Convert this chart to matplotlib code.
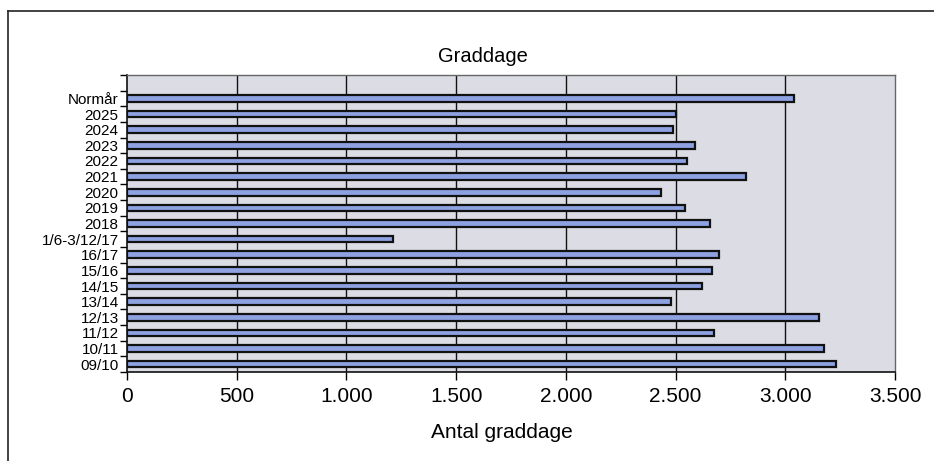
import numpy as np
import matplotlib
matplotlib.use('Agg')
import matplotlib.pyplot as plt
from matplotlib.lines import Line2D

plt.rcParams['font.family'] = ['Liberation Sans', 'DejaVu Sans']

# seasons, bottom to top
labels = ['09/10', '10/11', '11/12', '12/13', '13/14', '14/15', '15/16', '16/17',
          '1/6-3/12/17', '2018', '2019', '2020', '2021', '2022', '2023', '2024',
          '2025', 'Normår']
values = [3230, 3175, 2675, 3155, 2480, 2620, 2665, 2700,
          1210, 2655, 2545, 2435, 2820, 2550, 2590, 2490,
          2500, 3040]
xticks = [0, 500, 1000, 1500, 2000, 2500, 3000, 3500]
xticklabels = ['0', '500', '1.000', '1.500', '2.000', '2.500', '3.000', '3.500']

fig = plt.figure(figsize=(9.34, 4.61), dpi=100)
ax = fig.add_axes([127/934, 89/461, 768/934, 297/461])
ax.set_facecolor('#dcdce4')

y = np.arange(len(labels))
ax.barh(y, values, height=0.42, color='#8ea2e2', edgecolor='#111111', linewidth=1.6, zorder=3)

ax.set_xlim(0, 3500)
ax.set_ylim(-0.5, len(labels) + 0.5)
ax.set_xticks(xticks)
ax.set_xticklabels(xticklabels, fontsize=15)
for xv in xticks[1:-1]:
    ax.axvline(xv, color='#111111', linewidth=1.0, zorder=1)

ax.set_yticks(y)
ax.set_yticklabels(labels, fontsize=11)
ax.tick_params(axis='y', which='major', length=0, pad=6)
ax.set_yticks(np.arange(-0.5, len(labels) + 1, 1), minor=True)
ax.tick_params(axis='y', which='minor', length=5, width=1, direction='out')
ax.tick_params(axis='x', length=6, width=1, direction='out', pad=5)

for side in ['top', 'right']:
    ax.spines[side].set_color('#666666')
    ax.spines[side].set_linewidth(1)
for side in ['left', 'bottom']:
    ax.spines[side].set_color('#111111')
    ax.spines[side].set_linewidth(1.2)

fig.text(483/934, 1 - 57/461, 'Graddage', ha='center', va='center', fontsize=14.5)
fig.text(502/934, 1 - 432/461, 'Antal graddage', ha='center', va='center', fontsize=15)

# outer frame of the chart area
fig.add_artist(Line2D([8/934, 1], [1 - 11/461, 1 - 11/461], transform=fig.transFigure,
                      color='#222222', linewidth=1.2))
fig.add_artist(Line2D([8/934, 8/934], [0, 1 - 11/461], transform=fig.transFigure,
                      color='#222222', linewidth=1.2))

fig.savefig('out.png', dpi=100)
